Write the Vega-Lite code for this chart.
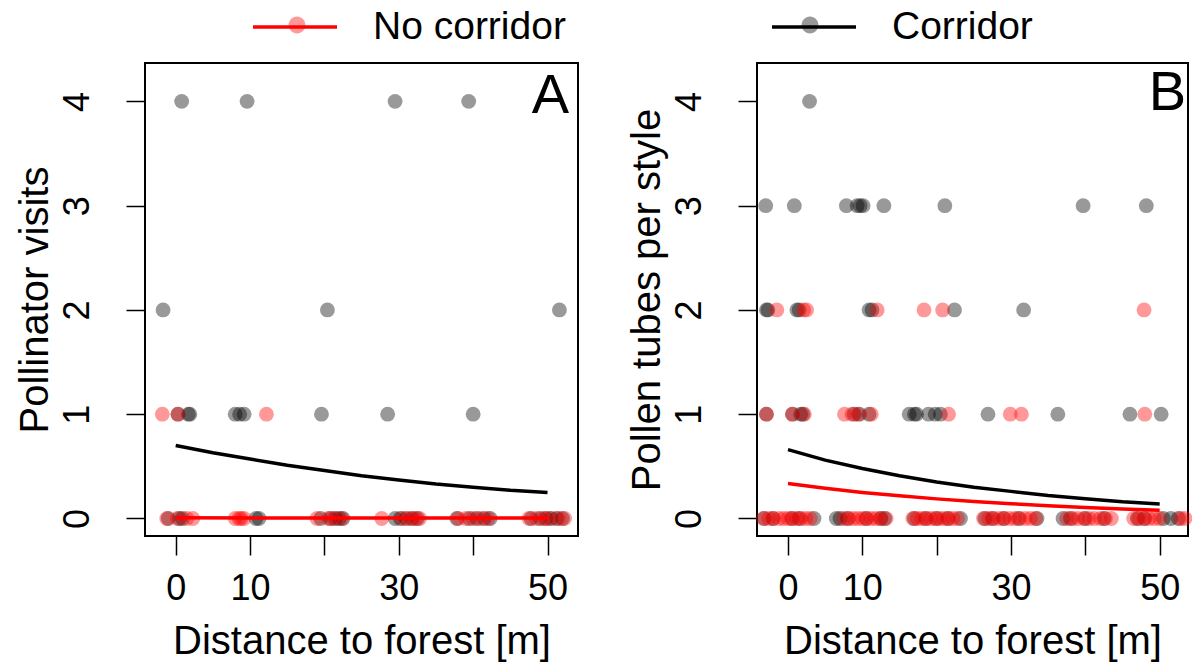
{
  "$schema": "https://vega.github.io/schema/vega-lite/v6.json",
  "autosize": {"type": "none"},
  "padding": {"left": 145, "top": 63, "right": 1047, "bottom": 602},
  "background": "white",
  "datasets": {
    "obs": [
      {"panel": "A", "dist": 0.8, "count": 4, "site": "Corridor"},
      {"panel": "A", "dist": 9.6, "count": 4, "site": "Corridor"},
      {"panel": "A", "dist": 29.5, "count": 4, "site": "Corridor"},
      {"panel": "A", "dist": 39.4, "count": 4, "site": "Corridor"},
      {"panel": "A", "dist": -1.7, "count": 2, "site": "Corridor"},
      {"panel": "A", "dist": 20.4, "count": 2, "site": "Corridor"},
      {"panel": "A", "dist": 51.6, "count": 2, "site": "Corridor"},
      {"panel": "A", "dist": 0.3, "count": 1, "site": "Corridor"},
      {"panel": "A", "dist": 1.7, "count": 1, "site": "Corridor"},
      {"panel": "A", "dist": 1.9, "count": 1, "site": "Corridor"},
      {"panel": "A", "dist": 8.0, "count": 1, "site": "Corridor"},
      {"panel": "A", "dist": 8.6, "count": 1, "site": "Corridor"},
      {"panel": "A", "dist": 9.2, "count": 1, "site": "Corridor"},
      {"panel": "A", "dist": 19.6, "count": 1, "site": "Corridor"},
      {"panel": "A", "dist": 28.5, "count": 1, "site": "Corridor"},
      {"panel": "A", "dist": 40.0, "count": 1, "site": "Corridor"},
      {"panel": "A", "dist": -1.8, "count": 1, "site": "No corridor"},
      {"panel": "A", "dist": 0.3, "count": 1, "site": "No corridor"},
      {"panel": "A", "dist": 12.2, "count": 1, "site": "No corridor"},
      {"panel": "A", "dist": -1.0, "count": 0, "site": "Corridor"},
      {"panel": "A", "dist": 0.5, "count": 0, "site": "Corridor"},
      {"panel": "A", "dist": 0.9, "count": 0, "site": "Corridor"},
      {"panel": "A", "dist": 10.8, "count": 0, "site": "Corridor"},
      {"panel": "A", "dist": 11.2, "count": 0, "site": "Corridor"},
      {"panel": "A", "dist": 19.5, "count": 0, "site": "Corridor"},
      {"panel": "A", "dist": 20.8, "count": 0, "site": "Corridor"},
      {"panel": "A", "dist": 21.5, "count": 0, "site": "Corridor"},
      {"panel": "A", "dist": 22.0, "count": 0, "site": "Corridor"},
      {"panel": "A", "dist": 22.5, "count": 0, "site": "Corridor"},
      {"panel": "A", "dist": 29.5, "count": 0, "site": "Corridor"},
      {"panel": "A", "dist": 30.2, "count": 0, "site": "Corridor"},
      {"panel": "A", "dist": 31.0, "count": 0, "site": "Corridor"},
      {"panel": "A", "dist": 31.8, "count": 0, "site": "Corridor"},
      {"panel": "A", "dist": 32.5, "count": 0, "site": "Corridor"},
      {"panel": "A", "dist": 37.8, "count": 0, "site": "Corridor"},
      {"panel": "A", "dist": 39.5, "count": 0, "site": "Corridor"},
      {"panel": "A", "dist": 40.5, "count": 0, "site": "Corridor"},
      {"panel": "A", "dist": 41.5, "count": 0, "site": "Corridor"},
      {"panel": "A", "dist": 42.3, "count": 0, "site": "Corridor"},
      {"panel": "A", "dist": 47.8, "count": 0, "site": "Corridor"},
      {"panel": "A", "dist": 49.0, "count": 0, "site": "Corridor"},
      {"panel": "A", "dist": 49.8, "count": 0, "site": "Corridor"},
      {"panel": "A", "dist": 50.5, "count": 0, "site": "Corridor"},
      {"panel": "A", "dist": 51.2, "count": 0, "site": "Corridor"},
      {"panel": "A", "dist": 52.0, "count": 0, "site": "Corridor"},
      {"panel": "A", "dist": -1.2, "count": 0, "site": "No corridor"},
      {"panel": "A", "dist": 0.2, "count": 0, "site": "No corridor"},
      {"panel": "A", "dist": 1.5, "count": 0, "site": "No corridor"},
      {"panel": "A", "dist": 2.3, "count": 0, "site": "No corridor"},
      {"panel": "A", "dist": 8.0, "count": 0, "site": "No corridor"},
      {"panel": "A", "dist": 8.5, "count": 0, "site": "No corridor"},
      {"panel": "A", "dist": 8.8, "count": 0, "site": "No corridor"},
      {"panel": "A", "dist": 9.2, "count": 0, "site": "No corridor"},
      {"panel": "A", "dist": 19.0, "count": 0, "site": "No corridor"},
      {"panel": "A", "dist": 20.5, "count": 0, "site": "No corridor"},
      {"panel": "A", "dist": 21.2, "count": 0, "site": "No corridor"},
      {"panel": "A", "dist": 22.3, "count": 0, "site": "No corridor"},
      {"panel": "A", "dist": 27.7, "count": 0, "site": "No corridor"},
      {"panel": "A", "dist": 30.5, "count": 0, "site": "No corridor"},
      {"panel": "A", "dist": 31.5, "count": 0, "site": "No corridor"},
      {"panel": "A", "dist": 32.2, "count": 0, "site": "No corridor"},
      {"panel": "A", "dist": 32.8, "count": 0, "site": "No corridor"},
      {"panel": "A", "dist": 38.0, "count": 0, "site": "No corridor"},
      {"panel": "A", "dist": 39.0, "count": 0, "site": "No corridor"},
      {"panel": "A", "dist": 40.0, "count": 0, "site": "No corridor"},
      {"panel": "A", "dist": 41.0, "count": 0, "site": "No corridor"},
      {"panel": "A", "dist": 42.0, "count": 0, "site": "No corridor"},
      {"panel": "A", "dist": 47.5, "count": 0, "site": "No corridor"},
      {"panel": "A", "dist": 48.5, "count": 0, "site": "No corridor"},
      {"panel": "A", "dist": 49.5, "count": 0, "site": "No corridor"},
      {"panel": "A", "dist": 50.2, "count": 0, "site": "No corridor"},
      {"panel": "A", "dist": 51.5, "count": 0, "site": "No corridor"},
      {"panel": "A", "dist": 52.3, "count": 0, "site": "No corridor"},

      {"panel": "B", "dist": 2.9, "count": 4, "site": "Corridor"},
      {"panel": "B", "dist": -3.0, "count": 3, "site": "Corridor"},
      {"panel": "B", "dist": 0.85, "count": 3, "site": "Corridor"},
      {"panel": "B", "dist": 7.85, "count": 3, "site": "Corridor"},
      {"panel": "B", "dist": 9.3, "count": 3, "site": "Corridor"},
      {"panel": "B", "dist": 9.7, "count": 3, "site": "Corridor"},
      {"panel": "B", "dist": 10.1, "count": 3, "site": "Corridor"},
      {"panel": "B", "dist": 12.9, "count": 3, "site": "Corridor"},
      {"panel": "B", "dist": 21.1, "count": 3, "site": "Corridor"},
      {"panel": "B", "dist": 39.7, "count": 3, "site": "Corridor"},
      {"panel": "B", "dist": 48.2, "count": 3, "site": "Corridor"},
      {"panel": "B", "dist": -2.9, "count": 2, "site": "Corridor"},
      {"panel": "B", "dist": -2.7, "count": 2, "site": "Corridor"},
      {"panel": "B", "dist": 1.2, "count": 2, "site": "Corridor"},
      {"panel": "B", "dist": 1.5, "count": 2, "site": "Corridor"},
      {"panel": "B", "dist": 10.9, "count": 2, "site": "Corridor"},
      {"panel": "B", "dist": 11.3, "count": 2, "site": "Corridor"},
      {"panel": "B", "dist": 22.4, "count": 2, "site": "Corridor"},
      {"panel": "B", "dist": 31.7, "count": 2, "site": "Corridor"},
      {"panel": "B", "dist": -1.5, "count": 2, "site": "No corridor"},
      {"panel": "B", "dist": 2.1, "count": 2, "site": "No corridor"},
      {"panel": "B", "dist": 2.5, "count": 2, "site": "No corridor"},
      {"panel": "B", "dist": 12.0, "count": 2, "site": "No corridor"},
      {"panel": "B", "dist": 18.3, "count": 2, "site": "No corridor"},
      {"panel": "B", "dist": 20.8, "count": 2, "site": "No corridor"},
      {"panel": "B", "dist": 47.9, "count": 2, "site": "No corridor"},
      {"panel": "B", "dist": -2.9, "count": 1, "site": "Corridor"},
      {"panel": "B", "dist": 0.6, "count": 1, "site": "Corridor"},
      {"panel": "B", "dist": 1.7, "count": 1, "site": "Corridor"},
      {"panel": "B", "dist": 2.0, "count": 1, "site": "Corridor"},
      {"panel": "B", "dist": 8.9, "count": 1, "site": "Corridor"},
      {"panel": "B", "dist": 9.6, "count": 1, "site": "Corridor"},
      {"panel": "B", "dist": 10.9, "count": 1, "site": "Corridor"},
      {"panel": "B", "dist": 16.3, "count": 1, "site": "Corridor"},
      {"panel": "B", "dist": 17.0, "count": 1, "site": "Corridor"},
      {"panel": "B", "dist": 17.3, "count": 1, "site": "Corridor"},
      {"panel": "B", "dist": 18.9, "count": 1, "site": "Corridor"},
      {"panel": "B", "dist": 19.8, "count": 1, "site": "Corridor"},
      {"panel": "B", "dist": 20.5, "count": 1, "site": "Corridor"},
      {"panel": "B", "dist": 26.9, "count": 1, "site": "Corridor"},
      {"panel": "B", "dist": 36.3, "count": 1, "site": "Corridor"},
      {"panel": "B", "dist": 46.0, "count": 1, "site": "Corridor"},
      {"panel": "B", "dist": 50.2, "count": 1, "site": "Corridor"},
      {"panel": "B", "dist": -2.9, "count": 1, "site": "No corridor"},
      {"panel": "B", "dist": 0.6, "count": 1, "site": "No corridor"},
      {"panel": "B", "dist": 2.2, "count": 1, "site": "No corridor"},
      {"panel": "B", "dist": 7.6, "count": 1, "site": "No corridor"},
      {"panel": "B", "dist": 8.6, "count": 1, "site": "No corridor"},
      {"panel": "B", "dist": 9.4, "count": 1, "site": "No corridor"},
      {"panel": "B", "dist": 11.2, "count": 1, "site": "No corridor"},
      {"panel": "B", "dist": 21.6, "count": 1, "site": "No corridor"},
      {"panel": "B", "dist": 29.9, "count": 1, "site": "No corridor"},
      {"panel": "B", "dist": 31.4, "count": 1, "site": "No corridor"},
      {"panel": "B", "dist": 48.0, "count": 1, "site": "No corridor"},
      {"panel": "B", "dist": -3.2, "count": 0, "site": "Corridor"},
      {"panel": "B", "dist": -2.0, "count": 0, "site": "Corridor"},
      {"panel": "B", "dist": 0.5, "count": 0, "site": "Corridor"},
      {"panel": "B", "dist": 1.5, "count": 0, "site": "Corridor"},
      {"panel": "B", "dist": 3.5, "count": 0, "site": "Corridor"},
      {"panel": "B", "dist": 6.5, "count": 0, "site": "Corridor"},
      {"panel": "B", "dist": 7.0, "count": 0, "site": "Corridor"},
      {"panel": "B", "dist": 8.0, "count": 0, "site": "Corridor"},
      {"panel": "B", "dist": 10.5, "count": 0, "site": "Corridor"},
      {"panel": "B", "dist": 12.5, "count": 0, "site": "Corridor"},
      {"panel": "B", "dist": 13.0, "count": 0, "site": "Corridor"},
      {"panel": "B", "dist": 17.0, "count": 0, "site": "Corridor"},
      {"panel": "B", "dist": 18.5, "count": 0, "site": "Corridor"},
      {"panel": "B", "dist": 20.0, "count": 0, "site": "Corridor"},
      {"panel": "B", "dist": 21.5, "count": 0, "site": "Corridor"},
      {"panel": "B", "dist": 23.2, "count": 0, "site": "Corridor"},
      {"panel": "B", "dist": 26.5, "count": 0, "site": "Corridor"},
      {"panel": "B", "dist": 27.5, "count": 0, "site": "Corridor"},
      {"panel": "B", "dist": 29.0, "count": 0, "site": "Corridor"},
      {"panel": "B", "dist": 31.0, "count": 0, "site": "Corridor"},
      {"panel": "B", "dist": 33.5, "count": 0, "site": "Corridor"},
      {"panel": "B", "dist": 37.0, "count": 0, "site": "Corridor"},
      {"panel": "B", "dist": 38.0, "count": 0, "site": "Corridor"},
      {"panel": "B", "dist": 40.0, "count": 0, "site": "Corridor"},
      {"panel": "B", "dist": 42.5, "count": 0, "site": "Corridor"},
      {"panel": "B", "dist": 47.0, "count": 0, "site": "Corridor"},
      {"panel": "B", "dist": 48.0, "count": 0, "site": "Corridor"},
      {"panel": "B", "dist": 50.5, "count": 0, "site": "Corridor"},
      {"panel": "B", "dist": 51.5, "count": 0, "site": "Corridor"},
      {"panel": "B", "dist": 52.5, "count": 0, "site": "Corridor"},
      {"panel": "B", "dist": -3.3, "count": 0, "site": "No corridor"},
      {"panel": "B", "dist": -2.6, "count": 0, "site": "No corridor"},
      {"panel": "B", "dist": -2.0, "count": 0, "site": "No corridor"},
      {"panel": "B", "dist": -1.2, "count": 0, "site": "No corridor"},
      {"panel": "B", "dist": -0.6, "count": 0, "site": "No corridor"},
      {"panel": "B", "dist": 0.0, "count": 0, "site": "No corridor"},
      {"panel": "B", "dist": 0.6, "count": 0, "site": "No corridor"},
      {"panel": "B", "dist": 1.2, "count": 0, "site": "No corridor"},
      {"panel": "B", "dist": 1.8, "count": 0, "site": "No corridor"},
      {"panel": "B", "dist": 2.4, "count": 0, "site": "No corridor"},
      {"panel": "B", "dist": 3.0, "count": 0, "site": "No corridor"},
      {"panel": "B", "dist": 7.5, "count": 0, "site": "No corridor"},
      {"panel": "B", "dist": 8.2, "count": 0, "site": "No corridor"},
      {"panel": "B", "dist": 8.8, "count": 0, "site": "No corridor"},
      {"panel": "B", "dist": 9.4, "count": 0, "site": "No corridor"},
      {"panel": "B", "dist": 10.0, "count": 0, "site": "No corridor"},
      {"panel": "B", "dist": 10.6, "count": 0, "site": "No corridor"},
      {"panel": "B", "dist": 11.2, "count": 0, "site": "No corridor"},
      {"panel": "B", "dist": 11.8, "count": 0, "site": "No corridor"},
      {"panel": "B", "dist": 12.4, "count": 0, "site": "No corridor"},
      {"panel": "B", "dist": 13.2, "count": 0, "site": "No corridor"},
      {"panel": "B", "dist": 16.8, "count": 0, "site": "No corridor"},
      {"panel": "B", "dist": 17.4, "count": 0, "site": "No corridor"},
      {"panel": "B", "dist": 18.0, "count": 0, "site": "No corridor"},
      {"panel": "B", "dist": 18.6, "count": 0, "site": "No corridor"},
      {"panel": "B", "dist": 19.2, "count": 0, "site": "No corridor"},
      {"panel": "B", "dist": 19.8, "count": 0, "site": "No corridor"},
      {"panel": "B", "dist": 20.4, "count": 0, "site": "No corridor"},
      {"panel": "B", "dist": 21.0, "count": 0, "site": "No corridor"},
      {"panel": "B", "dist": 21.6, "count": 0, "site": "No corridor"},
      {"panel": "B", "dist": 22.2, "count": 0, "site": "No corridor"},
      {"panel": "B", "dist": 22.8, "count": 0, "site": "No corridor"},
      {"panel": "B", "dist": 26.3, "count": 0, "site": "No corridor"},
      {"panel": "B", "dist": 27.0, "count": 0, "site": "No corridor"},
      {"panel": "B", "dist": 27.7, "count": 0, "site": "No corridor"},
      {"panel": "B", "dist": 28.4, "count": 0, "site": "No corridor"},
      {"panel": "B", "dist": 29.1, "count": 0, "site": "No corridor"},
      {"panel": "B", "dist": 29.8, "count": 0, "site": "No corridor"},
      {"panel": "B", "dist": 30.5, "count": 0, "site": "No corridor"},
      {"panel": "B", "dist": 31.2, "count": 0, "site": "No corridor"},
      {"panel": "B", "dist": 31.9, "count": 0, "site": "No corridor"},
      {"panel": "B", "dist": 32.6, "count": 0, "site": "No corridor"},
      {"panel": "B", "dist": 33.3, "count": 0, "site": "No corridor"},
      {"panel": "B", "dist": 37.5, "count": 0, "site": "No corridor"},
      {"panel": "B", "dist": 38.3, "count": 0, "site": "No corridor"},
      {"panel": "B", "dist": 39.0, "count": 0, "site": "No corridor"},
      {"panel": "B", "dist": 39.8, "count": 0, "site": "No corridor"},
      {"panel": "B", "dist": 40.5, "count": 0, "site": "No corridor"},
      {"panel": "B", "dist": 41.2, "count": 0, "site": "No corridor"},
      {"panel": "B", "dist": 42.0, "count": 0, "site": "No corridor"},
      {"panel": "B", "dist": 42.7, "count": 0, "site": "No corridor"},
      {"panel": "B", "dist": 43.5, "count": 0, "site": "No corridor"},
      {"panel": "B", "dist": 46.5, "count": 0, "site": "No corridor"},
      {"panel": "B", "dist": 47.2, "count": 0, "site": "No corridor"},
      {"panel": "B", "dist": 47.9, "count": 0, "site": "No corridor"},
      {"panel": "B", "dist": 48.6, "count": 0, "site": "No corridor"},
      {"panel": "B", "dist": 49.3, "count": 0, "site": "No corridor"},
      {"panel": "B", "dist": 50.0, "count": 0, "site": "No corridor"},
      {"panel": "B", "dist": 52.8, "count": 0, "site": "No corridor"},
      {"panel": "B", "dist": 53.4, "count": 0, "site": "No corridor"}
    ],
    "fits": [
      {"panel": "A", "dist": 0, "fit": 0.70, "model": "Corridor"},
      {"panel": "A", "dist": 5, "fit": 0.63, "model": "Corridor"},
      {"panel": "A", "dist": 10, "fit": 0.57, "model": "Corridor"},
      {"panel": "A", "dist": 15, "fit": 0.51, "model": "Corridor"},
      {"panel": "A", "dist": 20, "fit": 0.46, "model": "Corridor"},
      {"panel": "A", "dist": 25, "fit": 0.41, "model": "Corridor"},
      {"panel": "A", "dist": 30, "fit": 0.37, "model": "Corridor"},
      {"panel": "A", "dist": 35, "fit": 0.33, "model": "Corridor"},
      {"panel": "A", "dist": 40, "fit": 0.30, "model": "Corridor"},
      {"panel": "A", "dist": 45, "fit": 0.27, "model": "Corridor"},
      {"panel": "A", "dist": 50, "fit": 0.25, "model": "Corridor"},
      {"panel": "A", "dist": 0, "fit": 0.006, "model": "No corridor"},
      {"panel": "A", "dist": 25, "fit": 0.005, "model": "No corridor"},
      {"panel": "A", "dist": 50, "fit": 0.004, "model": "No corridor"},
      {"panel": "B", "dist": 0, "fit": 0.66, "model": "Corridor"},
      {"panel": "B", "dist": 5, "fit": 0.56, "model": "Corridor"},
      {"panel": "B", "dist": 10, "fit": 0.48, "model": "Corridor"},
      {"panel": "B", "dist": 15, "fit": 0.41, "model": "Corridor"},
      {"panel": "B", "dist": 20, "fit": 0.35, "model": "Corridor"},
      {"panel": "B", "dist": 25, "fit": 0.30, "model": "Corridor"},
      {"panel": "B", "dist": 30, "fit": 0.26, "model": "Corridor"},
      {"panel": "B", "dist": 35, "fit": 0.22, "model": "Corridor"},
      {"panel": "B", "dist": 40, "fit": 0.19, "model": "Corridor"},
      {"panel": "B", "dist": 45, "fit": 0.16, "model": "Corridor"},
      {"panel": "B", "dist": 50, "fit": 0.14, "model": "Corridor"},
      {"panel": "B", "dist": 0, "fit": 0.335, "model": "No corridor"},
      {"panel": "B", "dist": 5, "fit": 0.29, "model": "No corridor"},
      {"panel": "B", "dist": 10, "fit": 0.25, "model": "No corridor"},
      {"panel": "B", "dist": 15, "fit": 0.217, "model": "No corridor"},
      {"panel": "B", "dist": 20, "fit": 0.188, "model": "No corridor"},
      {"panel": "B", "dist": 25, "fit": 0.163, "model": "No corridor"},
      {"panel": "B", "dist": 30, "fit": 0.142, "model": "No corridor"},
      {"panel": "B", "dist": 35, "fit": 0.123, "model": "No corridor"},
      {"panel": "B", "dist": 40, "fit": 0.106, "model": "No corridor"},
      {"panel": "B", "dist": 45, "fit": 0.092, "model": "No corridor"},
      {"panel": "B", "dist": 50, "fit": 0.08, "model": "No corridor"}
    ]
  },
  "spacing": 179,
  "bounds": "flush",
  "resolve": {
    "scale": {"x": "independent", "y": "independent", "fill": "shared", "stroke": "shared"},
    "legend": {"fill": "shared", "stroke": "shared"}
  },
  "hconcat": [
    {
      "width": 433,
      "height": 473,
      "layer": [
        {
          "data": {"name": "obs"},
          "transform": [{"filter": "datum.panel == 'A'"}],
          "mark": {"type": "circle", "size": 220, "opacity": 0.4},
          "encoding": {
            "x": {"field": "dist", "type": "quantitative", "scale": {"domain": [-4.13, 54.1], "nice": false, "zero": false},
                  "axis": {"title": "Distance to forest [m]", "values": [0, 10, 20, 30, 40, 50], "labelExpr": "datum.value == 20 || datum.value == 40 ? '' : datum.label"}},
            "y": {"field": "count", "type": "quantitative", "scale": {"domain": [-0.168, 4.368], "nice": false, "zero": false},
                  "axis": {"title": "Pollinator visits", "values": [0, 1, 2, 3, 4], "format": "d"}},
            "fill": {"field": "site", "type": "nominal",
                     "scale": {"domain": ["No corridor", "Corridor"], "range": ["#ff0000", "#000000"]},
                     "legend": {"orient": "none", "direction": "horizontal", "legendX": 110, "legendY": -80, "title": null,
                                "symbolType": "M-0.2,0A0.2,0.2 0 1,0 0.2,0A0.2,0.2 0 1,0 -0.2,0Z", "symbolSize": 7056,
                                "symbolOpacity": 0.45, "symbolStrokeWidth": 0, "labelExpr": "''",
                                "labelFontSize": 39, "labelFont": "Liberation Sans", "labelOffset": 0, "columnPadding": 429}}
          }
        },
        {
          "data": {"name": "fits"},
          "transform": [{"filter": "datum.panel == 'A'"}],
          "mark": {"type": "line", "strokeWidth": 3.5},
          "encoding": {
            "x": {"field": "dist", "type": "quantitative"},
            "y": {"field": "fit", "type": "quantitative"},
            "stroke": {"field": "model", "type": "nominal", "sort": ["No corridor", "Corridor"],
                       "scale": {"range": ["#ff0000", "#000000"]},
                       "legend": {"orient": "none", "direction": "horizontal", "legendX": 106, "legendY": -80, "title": null,
                                  "symbolType": "M-1,0H1", "symbolSize": 7056, "symbolStrokeWidth": 3.5, "labelLimit": 0,
                                  "labelFontSize": 39, "labelFont": "Liberation Sans", "labelColor": "black", "labelOffset": 34, "columnPadding": 199}}
          }
        },
        {
          "data": {"values": [{"tag": "A"}]},
          "mark": {"type": "text", "align": "right", "baseline": "alphabetic", "dx": -9, "dy": 50, "fontSize": 56, "font": "Liberation Sans", "color": "black"},
          "encoding": {
            "x": {"datum": 54.1, "type": "quantitative"},
            "y": {"datum": 4.368, "type": "quantitative"},
            "text": {"field": "tag"}
          }
        }
      ]
    },
    {
      "width": 431,
      "height": 473,
      "layer": [
        {
          "data": {"name": "obs"},
          "transform": [{"filter": "datum.panel == 'B'"}],
          "mark": {"type": "circle", "size": 220, "opacity": 0.4},
          "encoding": {
            "x": {"field": "dist", "type": "quantitative", "scale": {"domain": [-4.17, 53.81], "nice": false, "zero": false},
                  "axis": {"title": "Distance to forest [m]", "values": [0, 10, 20, 30, 40, 50], "labelExpr": "datum.value == 20 || datum.value == 40 ? '' : datum.label"}},
            "y": {"field": "count", "type": "quantitative", "scale": {"domain": [-0.168, 4.368], "nice": false, "zero": false},
                  "axis": {"title": "Pollen tubes per style", "values": [0, 1, 2, 3, 4], "format": "d"}},
            "fill": {"field": "site", "type": "nominal"}
          }
        },
        {
          "data": {"name": "fits"},
          "transform": [{"filter": "datum.panel == 'B'"}],
          "mark": {"type": "line", "strokeWidth": 3.5},
          "encoding": {
            "x": {"field": "dist", "type": "quantitative"},
            "y": {"field": "fit", "type": "quantitative"},
            "stroke": {"field": "model", "type": "nominal", "sort": ["No corridor", "Corridor"]}
          }
        },
        {
          "data": {"values": [{"tag": "B"}]},
          "mark": {"type": "text", "align": "right", "baseline": "alphabetic", "dx": -2, "dy": 47, "fontSize": 56, "font": "Liberation Sans", "color": "black"},
          "encoding": {
            "x": {"datum": 53.81, "type": "quantitative"},
            "y": {"datum": 4.368, "type": "quantitative"},
            "text": {"field": "tag"}
          }
        }
      ]
    }
  ],
  "config": {
    "view": {"stroke": "black", "strokeWidth": 2},
    "axis": {
      "domain": false, "grid": false, "ticks": true, "tickColor": "black", "tickWidth": 1.5, "tickSize": 19,
      "labelFont": "Liberation Sans", "labelFontSize": 36, "labelColor": "black", "labelOverlap": false, "labelFlush": false,
      "titleFont": "Liberation Sans", "titleFontSize": 40, "titleFontWeight": "normal", "titleColor": "black"
    },
    "axisX": {"labelPadding": 16, "titlePadding": 15},
    "axisY": {"labelAngle": -90, "labelAlign": "center", "labelBaseline": "alphabetic", "labelPadding": 38, "titlePadding": 4}
  }
}
